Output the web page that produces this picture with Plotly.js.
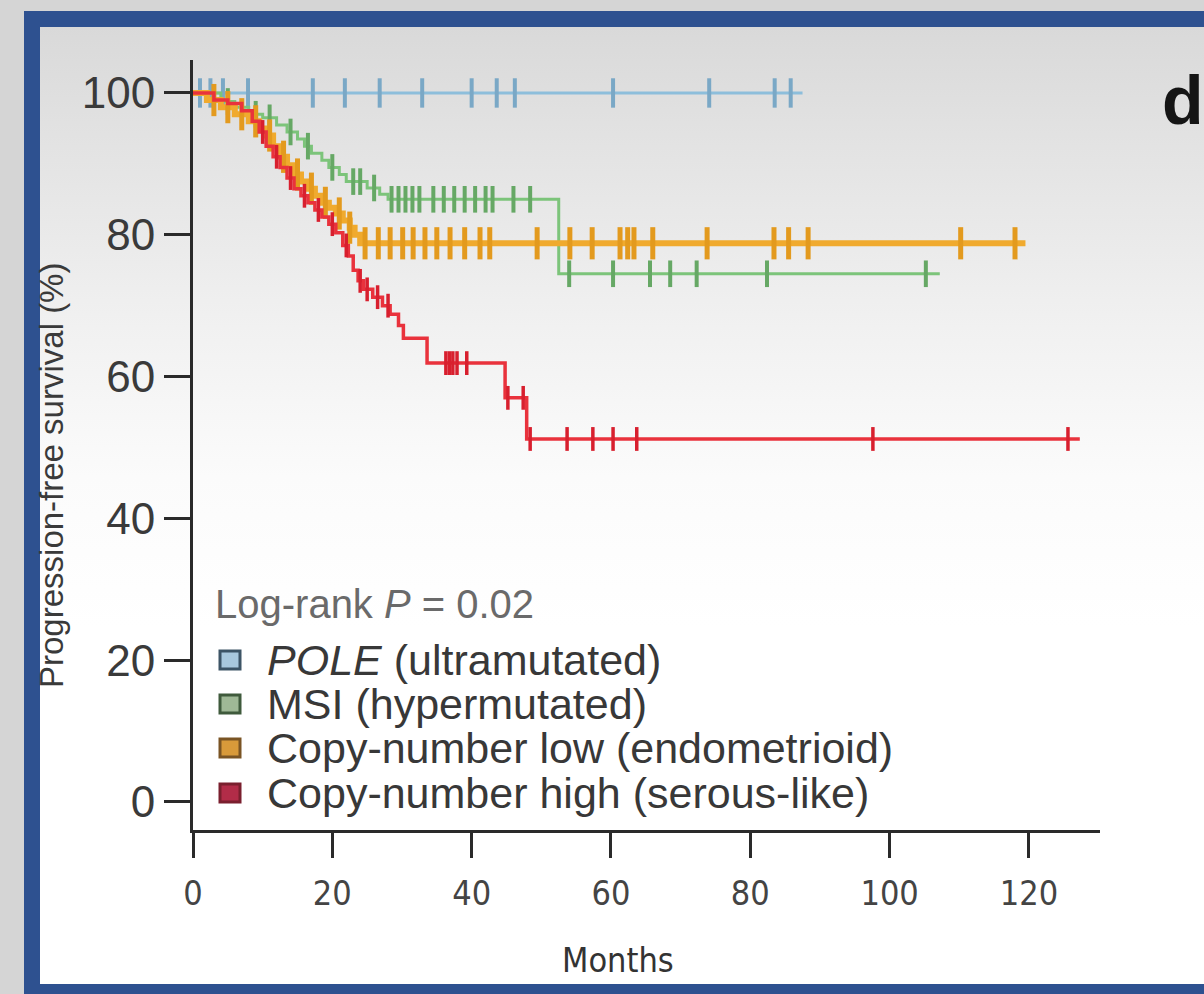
<!DOCTYPE html>
<html>
<head>
<meta charset="utf-8">
<script src="https://cdn.plot.ly/plotly-3.0.1.min.js"></script>
<style>
  html, body { margin: 0; padding: 0; width: 1204px; height: 994px; overflow: hidden; background: #d5d5d5; }
  #inner { position: absolute; left: 40px; top: 27px; width: 1164px; height: 958px;
           background: linear-gradient(to bottom, #d9d9d9 0px, #e3e3e3 120px, #f1f1f1 300px, #fbfbfb 450px, #ffffff 600px); }
  .band { position: absolute; background: #2e5190; }
  #chart { position: absolute; left: 0; top: 0; width: 1204px; height: 994px; }
</style>
</head>
<body>
<div id="inner"></div>
<div class="band" style="left:24px; top:11px; width:1180px; height:16px;"></div>
<div class="band" style="left:24px; top:11px; width:16px; height:983px;"></div>
<div class="band" style="left:24px; top:984px; width:1180px; height:10px;"></div>
<div id="chart"></div>
<script>
// ---------------- data (months, progression-free survival %) ----------------
const seriesNames = ['<i>POLE</i> (ultramutated)', 'MSI (hypermutated)', 'Copy-number low (endometrioid)', 'Copy-number high (serous-like)'];

const poleTimes = [0, 87.5];
const poleSurv  = [100, 100];
const poleCensor = [1.0, 2.5, 4.3, 7.9, 17.2, 21.8, 26.8, 32.9, 40.0, 43.6, 46.2, 60.3, 74.1, 83.5, 85.8];

const msiTimes = [0, 4, 6, 8, 10, 12, 13.5, 15, 16, 17, 18.5, 19.5, 21, 22, 25, 26.8, 28, 52.5, 107.2];
const msiSurv  = [100, 98.8, 98, 97, 96.5, 95.5, 94.5, 93.5, 92.5, 91.5, 90.5, 89.5, 88.5, 87.5, 86.6, 85.7, 85.0, 74.5, 74.5];
const msiCensor = [5, 9, 11, 14, 16.5, 20, 23, 24, 26, 28.5, 29.5, 30.5, 31.5, 32.5, 34.5, 36, 37.5, 39, 40.5, 42, 43, 46, 48.4,
                   54.0, 60.3, 65.6, 68.5, 72.3, 82.4, 105.2];

const cnlTimes = [0, 2, 4, 6, 8, 9.5, 10.5, 11.5, 12.5, 13.5, 14.5, 15.5, 16.5, 17.5, 18.5, 19.5, 20.5, 21.5, 22.5, 23.2, 24, 119.5];
const cnlSurv  = [100, 99, 98, 97, 96, 95, 94, 92.5, 91, 89.8, 88.5, 87.5, 86.5, 85.5, 84.5, 83.8, 83, 82, 81, 80, 78.8, 78.8];
const cnlCensor = [3, 5, 7, 9, 11, 13, 15, 17, 19, 21, 22.5, 24.7, 26.6, 28.3, 30.1, 31.6, 33.3, 35.0, 36.9, 39.0, 41.2, 42.6,
                   49.4, 54.1, 57.3, 61.3, 62.4, 63.3, 66.0, 73.8, 83.4, 85.5, 88.3, 110.2, 118.0];

const cnhTimes = [0, 3, 5, 7, 8.5, 9.5, 10.5, 11.5, 12.5, 13.5, 14.5, 15.5, 16.5, 17.5, 18.5, 19.5, 20.5, 21.5, 22.3, 23, 23.7,
                  24.5, 25.8, 27.2, 28.3, 29.5, 30.2, 33.6, 44.8, 47.9, 127.3];
const cnhSurv  = [100, 99, 98.5, 97.5, 96, 94.5, 92.5, 91, 89.5, 88, 86.5, 85.5, 84.5, 83.5, 82.5, 81.5, 80.3, 78.5, 77, 75, 73.5,
                  72.3, 71.2, 70, 68.8, 67.2, 65.4, 61.9, 57.0, 51.2, 51.2];
const cnhCensor = [10, 12, 14, 16, 18, 20, 22, 24, 25, 26.5, 28, 36.3, 36.8, 37.3, 37.9, 39.3, 45.2, 47.4, 48.4, 53.7, 57.4, 60.3, 63.7, 97.6, 125.6];

const xTicks = [0, 20, 40, 60, 80, 100, 120];
const yTicks = [0, 20, 40, 60, 80, 100];

// ---------------- styles ----------------
const lineColors   = ['#8dbedb', '#7cc47a', '#f0aa2e', '#e9323c'];
const markColors   = ['#7aa8c6', '#66a865', '#e39a1e', '#d81f2e'];
const lineWidths   = [3, 3, 6, 3.5];
const markSizes    = [21, 19, 23, 17];
const markWidths   = [4, 4, 5, 3.5];
const boxFill      = ['#a9c9de', '#9fb896', '#d99a3a', '#b22c48'];
const boxLine      = ['#3d5566', '#3f5a3c', '#7a5424', '#7a1f2e'];

function survAt(T, S, t) {
  let s = S[0];
  for (let i = 0; i < T.length; i++) { if (T[i] <= t) s = S[i]; }
  return s;
}

const groups = [
  [poleTimes, poleSurv, poleCensor],
  [msiTimes, msiSurv, msiCensor],
  [cnlTimes, cnlSurv, cnlCensor],
  [cnhTimes, cnhSurv, cnhCensor]
];

const traces = [];
groups.forEach((g, i) => {
  const [T, S, C] = g;
  traces.push({
    x: T, y: S, type: 'scatter', mode: 'lines', name: seriesNames[i],
    line: { shape: 'hv', color: lineColors[i], width: lineWidths[i] },
    hoverinfo: 'skip', showlegend: false
  });
  traces.push({
    x: C, y: C.map(t => survAt(T, S, t)), type: 'scatter', mode: 'markers', name: seriesNames[i] + ' censored',
    marker: { symbol: 'line-ns-open', size: markSizes[i], color: markColors[i], line: { color: markColors[i], width: markWidths[i] } },
    hoverinfo: 'skip', showlegend: false, cliponaxis: false
  });
});

// ---------------- layout helpers (pixel -> paper) ----------------
const PL = 193, PR = 1100, PT = 60, PB = 830;
const px = v => (v - PL) / (PR - PL);
const py = v => (PB - v) / (PB - PT);

const annotations = [];
const shapes = [];
const txtFont = { family: 'Liberation Sans, Arial, sans-serif', size: 43, color: '#383838' };

annotations.push({ xref: 'paper', yref: 'paper', x: px(213), y: py(604), xanchor: 'left', yanchor: 'middle',
  text: 'Log-rank <i>P</i> = 0.02', showarrow: false, font: { family: txtFont.family, size: 40, color: '#6a6a6a' } });

const rowY = [660, 704, 748, 793];
seriesNames.forEach((n, i) => {
  annotations.push({ xref: 'paper', yref: 'paper', x: px(265), y: py(rowY[i]), xanchor: 'left', yanchor: 'middle',
    text: n, showarrow: false, font: txtFont });
  shapes.push({ type: 'rect', xref: 'paper', yref: 'paper', x0: px(220), x1: px(240), y0: py(rowY[i] + 9), y1: py(rowY[i] - 9),
    fillcolor: boxFill[i], line: { color: boxLine[i], width: 3 } });
});

// axis titles
annotations.push({ xref: 'paper', yref: 'paper', x: px(52), y: py(476), xanchor: 'center', yanchor: 'middle', textangle: -90,
  text: 'Progression-free survival (%)', showarrow: false, font: { family: txtFont.family, size: 33, color: '#3a3a3a' } });
annotations.push({ xref: 'paper', yref: 'paper', x: px(618), y: py(960), xanchor: 'center', yanchor: 'middle',
  text: 'Months', showarrow: false, font: { family: 'Liberation Sans Narrow, DejaVu Sans Condensed, Arial, sans-serif', size: 34, color: '#333' } });
// panel letter
annotations.push({ xref: 'paper', yref: 'paper', x: px(1160), y: py(100), xanchor: 'left', yanchor: 'middle',
  text: '<b>d</b>', showarrow: false, font: { family: 'Liberation Sans, Arial, sans-serif', size: 68, color: '#151515' } });

const layout = {
  width: 1204, height: 994,
  margin: { l: PL, r: 1204 - PR, t: PT, b: 994 - PB, pad: 0 },
  paper_bgcolor: 'rgba(0,0,0,0)', plot_bgcolor: 'rgba(0,0,0,0)',
  showlegend: false,
  xaxis: {
    range: [0, 130.2], tickvals: xTicks, ticktext: xTicks.map(String),
    showgrid: false, zeroline: false, showline: true, linecolor: '#2a2a2a', linewidth: 3,
    ticks: 'outside', ticklen: 25, tickwidth: 3, tickcolor: '#2a2a2a', ticklabelstandoff: 6,
    tickfont: { family: 'Liberation Sans Narrow, DejaVu Sans Condensed, Arial, sans-serif', size: 34, color: '#444' },
    fixedrange: true
  },
  yaxis: {
    range: [-3.95, 104.65], tickvals: yTicks, ticktext: yTicks.map(String),
    showgrid: false, zeroline: false, showline: true, linecolor: '#2a2a2a', linewidth: 3,
    ticks: 'outside', ticklen: 26, tickwidth: 3, tickcolor: '#2a2a2a',
    tickfont: { family: 'Liberation Sans, Arial, sans-serif', size: 44, color: '#3a3a3a' },
    fixedrange: true
  },
  annotations: annotations,
  shapes: shapes
};

Plotly.newPlot('chart', traces, layout, { staticPlot: true, displayModeBar: false });
</script>
</body>
</html>
